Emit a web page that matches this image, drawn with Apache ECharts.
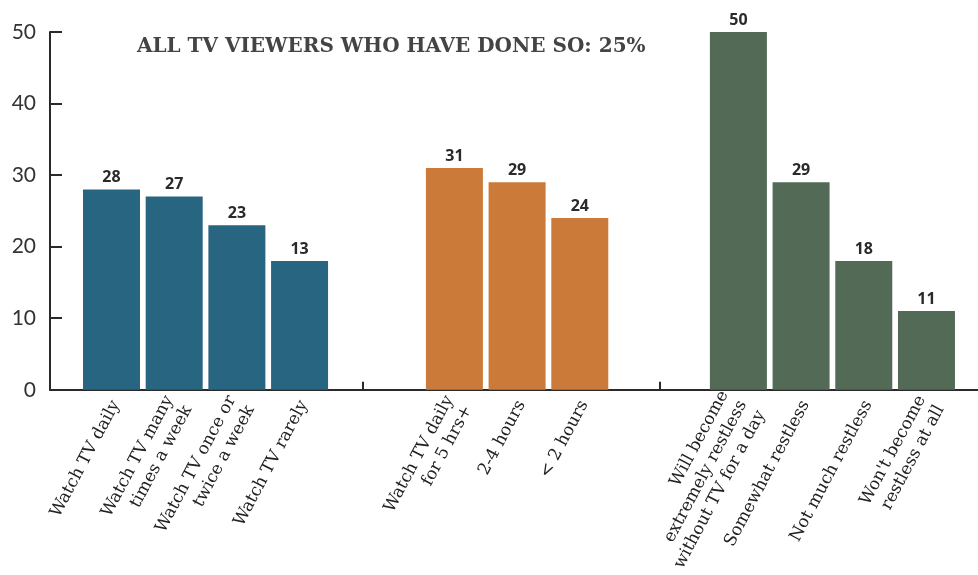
<!DOCTYPE html>
<html>
<head>
<meta charset="utf-8">
<script src="https://cdn.jsdelivr.net/npm/echarts@6/dist/echarts.min.js"></script>
<style>html,body{margin:0;padding:0;background:#fff}#c{width:978px;height:575px}</style>
</head>
<body>
<div id="c"></div>
<script>
// ---- data ----
var titleText = 'ALL TV VIEWERS WHO HAVE DONE SO: 25%';
var freqCategories = ['Watch TV daily', 'Watch TV many\ntimes a week', 'Watch TV once or\ntwice a week', 'Watch TV rarely'];
var freqValues = [28, 27, 23, 18];
var freqLabels = ['28', '27', '23', '13'];
var hoursCategories = ['Watch TV daily\nfor 5 hrs+', '2-4 hours', '< 2 hours'];
var hoursValues = [31, 29, 24];
var hoursLabels = ['31', '29', '24'];
var restlessCategories = ['Will become\nextremely restless\nwithout TV for a day', 'Somewhat restless', 'Not much restless', "Won't become\nrestless at all"];
var restlessValues = [50, 29, 18, 11];
var restlessLabels = ['50', '29', '18', '11'];
var yTicks = [0, 10, 20, 30, 40, 50];

// ---- layout (group placement on the x scale) ----
var groups = [
  {cats: freqCategories, vals: freqValues, labs: freqLabels, start: 0, color: '#286580'},
  {cats: hoursCategories, vals: hoursValues, labs: hoursLabels, start: 5.47, color: '#CB7A3A'},
  {cats: restlessCategories, vals: restlessValues, labs: restlessLabels, start: 10, color: '#536B56'}
];
var separators = [4, 8.75];
var labelShift = 0.07;

var data = [], positions = [], labelPositions = [], names = [], texts = [];
groups.forEach(function (g) {
  g.vals.forEach(function (v, i) {
    var x = g.start + i;
    positions.push(x); labelPositions.push(x + labelShift);
    names.push(g.cats[i]); texts.push(g.labs[i]);
    data.push({value: [x, v], itemStyle: {color: g.color}});
  });
});

var chart = echarts.init(document.getElementById('c'));
chart.setOption({
  animation: false,
  title: {
    text: titleText, left: 132, top: 32,
    textStyle: {fontFamily: 'DejaVu Serif', fontWeight: 'bold', fontSize: 20, color: '#444'}
  },
  grid: {left: 50, right: 0, top: 32, bottom: 185, containLabel: false},
  xAxis: {
    type: 'value', min: -0.981, max: 13.822,
    splitLine: {show: false},
    axisLine: {show: true, onZero: false, lineStyle: {color: '#2a2a2a', width: 2}},
    axisTick: {show: true, inside: true, length: 8, customValues: separators, lineStyle: {color: '#2a2a2a', width: 2}},
    axisLabel: {
      customValues: labelPositions,
      rotate: 62, margin: 12,
      fontFamily: 'DejaVu Serif', fontSize: 17, lineHeight: 21, color: '#222',
      formatter: function (val) {
        var best = 0, d = 1e9;
        labelPositions.forEach(function (p, i) { var dd = Math.abs(p - val); if (dd < d) { d = dd; best = i; } });
        return names[best];
      }
    }
  },
  yAxis: {
    type: 'value', min: 0, max: 50, interval: 10,
    splitLine: {show: false},
    axisLine: {show: true, onZero: false, lineStyle: {color: '#2a2a2a', width: 2}},
    axisTick: {show: true, inside: true, length: 12, lineStyle: {color: '#2a2a2a', width: 2}},
    axisLabel: {margin: 14, fontFamily: 'Lato', fontSize: 21, color: '#333',
      formatter: function (v) { return yTicks.indexOf(v) >= 0 ? String(v) : ''; }}
  },
  series: [{
    type: 'bar', barWidth: 57, data: data,
    label: {
      show: true, position: 'top', distance: 4,
      fontFamily: 'Open Sans', fontWeight: 'bold', fontSize: 16, color: '#2a2a2a',
      formatter: function (p) { return texts[p.dataIndex]; }
    }
  }]
});
</script>
</body>
</html>
